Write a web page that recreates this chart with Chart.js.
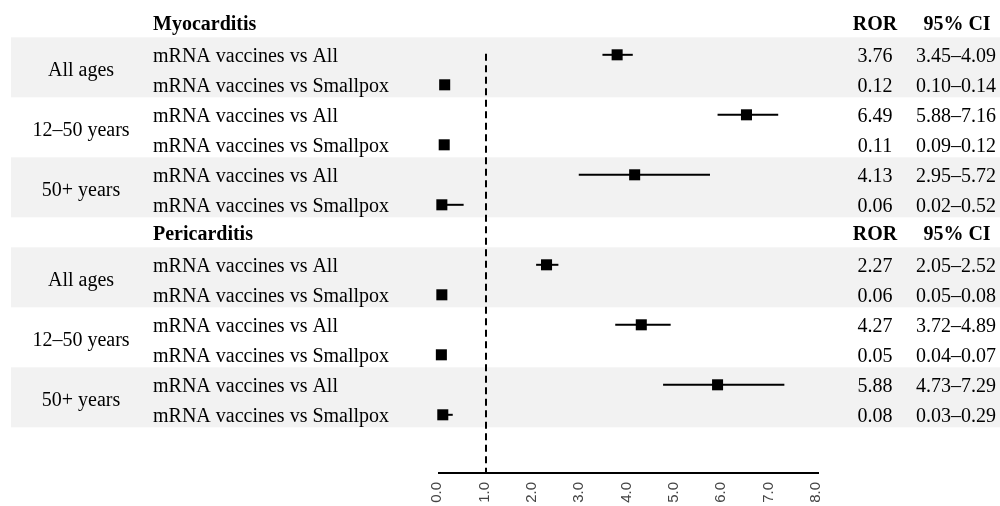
<!DOCTYPE html>
<html><head><meta charset="utf-8">
<script src="https://cdn.jsdelivr.net/npm/chart.js@4.4.0/dist/chart.umd.min.js"></script>
<style>html,body{margin:0;padding:0;background:#fff}#wrap{width:1000px;height:506px;position:relative}</style>
</head><body><div id="wrap"><canvas id="c"></canvas></div>
<script>
const outcomes = ['Myocarditis', 'Pericarditis'];
const ageGroups = ['All ages', '12\u201350 years', '50+ years'];
const comparisons = ['mRNA vaccines vs All', 'mRNA vaccines vs Smallpox'];
const ror   = [3.76, 0.12, 6.49, 0.11, 4.13, 0.06, 2.27, 0.06, 4.27, 0.05, 5.88, 0.08];
const lower = [3.45, 0.10, 5.88, 0.09, 2.95, 0.02, 2.05, 0.05, 3.72, 0.04, 4.73, 0.03];
const upper = [4.09, 0.14, 7.16, 0.12, 5.72, 0.52, 2.52, 0.08, 4.89, 0.07, 7.29, 0.29];
const xTicks = [0, 1, 2, 3, 4, 5, 6, 7, 8];
const refValue = 1;
const colHeaders = ['ROR', '95% CI'];

function rowOf(i) { const o = Math.floor(i / 6); return o * 7 + 1 + (i % 6); }
const points = ror.map((v, i) => ({ x: v, y: rowOf(i) }));

const SERIF = '"Liberation Serif", "Times New Roman", serif';

const forestPlugin = {
  id: 'forest',
  beforeDraw(chart) {
    const ctx = chart.ctx, y = chart.scales.y;
    ctx.save();
    ctx.fillStyle = '#fff';
    ctx.fillRect(0, 0, chart.width, chart.height);
    ctx.fillStyle = '#f2f2f2';
    outcomes.forEach((o, oi) => {
      ageGroups.forEach((a, ai) => {
        if (ai % 2 !== 0) return;
        const r0 = oi * 7 + 1 + ai * 2;
        const top = y.getPixelForValue(r0 - 0.5) - 2.5;
        const bot = y.getPixelForValue(r0 + 1.5) - 2.5;
        ctx.fillRect(11, top, chart.width - 11, bot - top);
      });
    });
    ctx.restore();
  },
  beforeDatasetsDraw(chart) {
    const ctx = chart.ctx, x = chart.scales.x, y = chart.scales.y;
    ctx.save();
    ctx.strokeStyle = '#000';
    ctx.lineWidth = 2;
    ctx.setLineDash([7, 4.5]);
    const xr = Math.round(x.getPixelForValue(refValue));
    ctx.beginPath();
    ctx.moveTo(xr, y.getPixelForValue(1) - 1);
    ctx.lineTo(xr, chart.chartArea.bottom);
    ctx.stroke();
    ctx.setLineDash([]);
    ctx.lineWidth = 2;
    ror.forEach((v, i) => {
      const py = y.getPixelForValue(rowOf(i));
      ctx.beginPath();
      ctx.moveTo(x.getPixelForValue(lower[i]), py);
      ctx.lineTo(x.getPixelForValue(upper[i]), py);
      ctx.stroke();
    });
    ctx.restore();
  },
  afterDraw(chart) {
    const ctx = chart.ctx, y = chart.scales.y;
    ctx.save();
    ctx.fillStyle = '#000';
    ctx.textBaseline = 'alphabetic';
    outcomes.forEach((o, oi) => {
      const hy = y.getPixelForValue(oi * 7) + 5;
      ctx.font = 'bold 20px ' + SERIF;
      ctx.textAlign = 'left';
      ctx.fillText(o, 153, hy);
      ctx.textAlign = 'center';
      ctx.fillText(colHeaders[0], 875, hy);
      ctx.fillText(colHeaders[1], 957, hy);
      ctx.font = '20px ' + SERIF;
      ageGroups.forEach((a, ai) => {
        const r0 = oi * 7 + 1 + ai * 2;
        const my = (y.getPixelForValue(r0) + y.getPixelForValue(r0 + 1)) / 2 + 6;
        ctx.textAlign = 'center';
        ctx.fillText(a, 81, my);
        comparisons.forEach((c, ci) => {
          const idx = oi * 6 + ai * 2 + ci;
          const ry = y.getPixelForValue(r0 + ci) + 7.5;
          ctx.textAlign = 'left';
          ctx.fillText(c, 153, ry);
          ctx.textAlign = 'center';
          ctx.fillText(ror[idx].toFixed(2), 875, ry);
          ctx.fillText(lower[idx].toFixed(2) + '\u2013' + upper[idx].toFixed(2), 956, ry);
        });
      });
    });
    ctx.restore();
  }
};

new Chart(document.getElementById('c'), {
  type: 'scatter',
  data: {
    datasets: [{
      data: points,
      clip: false,
      pointStyle: 'rect',
      pointRadius: 7.8,
      pointHoverRadius: 7.8,
      backgroundColor: '#000',
      borderColor: '#000',
      borderWidth: 0
    }]
  },
  options: {
    responsive: true,
    maintainAspectRatio: false,
    animation: false,
    events: [],
    layout: { autoPadding: false, padding: { left: 439, right: 182, top: 0, bottom: 0 } },
    plugins: { legend: { display: false }, tooltip: { enabled: false } },
    scales: {
      x: {
        type: 'linear',
        min: 0, max: 8,
        grid: { display: false, drawTicks: false },
        border: { display: true, color: '#000', width: 2 },
        afterBuildTicks(scale) { scale.ticks = xTicks.map(v => ({ value: v })); },
        afterFit(scale) { scale.height = 33; scale.paddingLeft = 0; scale.paddingRight = 0; },
        ticks: {
          autoSkip: false,
          minRotation: 90, maxRotation: 90,
          padding: 9,
          labelOffset: -2,
          color: '#444',
          font: { family: '"Liberation Sans", Arial, sans-serif', size: 15 },
          callback: (v) => Number(v).toFixed(1)
        }
      },
      y: {
        type: 'linear',
        display: false,
        reverse: true,
        min: -0.827, max: 14.94
      }
    }
  },
  plugins: [forestPlugin]
});
</script></body></html>
